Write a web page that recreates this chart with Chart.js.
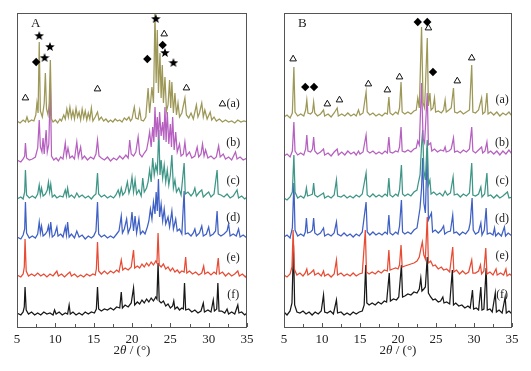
<!DOCTYPE html>
<html>
<head>
<meta charset="utf-8">
<script src="https://cdn.jsdelivr.net/npm/chart.js@4"></script>
<style>
    html, body { margin: 0; padding: 0; background: #fff; }
    #wrap { position: relative; width: 531px; height: 371px; }
    .box { position: absolute; top: 0; height: 371px; }
</style>
</head>
<body>
<div id="wrap">
    <div class="box" style="left:0;width:265px"><canvas id="chartA"></canvas></div>
    <div class="box" style="left:265px;width:266px"><canvas id="chartB"></canvas></div>
</div>
<script>
// --- DADOS ---
const xTickLabels = [5, 10, 15, 20, 25, 30, 35];
const seriesLabels = ['(a)', '(b)', '(c)', '(d)', '(e)', '(f)'];
const offsetsA = [204, 165, 127, 88, 50, 12];
const offsetsB = [209, 170, 127, 89, 50, 12];

// painel A: [2θ, intensidade acima da linha base]
const patA_a = [[5,2],[5.4,0],[5.8,3],[6.1,1],[6.3,6],[6.5,1],[6.9,3],[7.2,2],[7.45,8],[7.6,20],[7.75,10],[7.9,81],[8.05,12],[8.3,6],[8.55,20],[8.7,50],[8.85,14],[9.05,8],[9.2,20],[9.35,63],[9.5,4],[9.7,1],[10.0,3],[10.3,0],[10.6,4],[10.8,2],[11.1,8],[11.3,4],[11.5,14],[11.7,6],[11.9,16],[12.1,5],[12.3,12],[12.5,4],[12.7,15],[12.9,6],[13.1,11],[13.3,3],[13.5,14],[13.7,5],[13.9,12],[14.1,3],[14.3,10],[14.5,4],[14.7,15],[14.9,2],[15.2,6],[15.5,11],[15.7,3],[16.0,6],[16.3,2],[16.6,4],[16.9,1],[17.2,3],[17.5,1],[17.8,4],[18.1,2],[18.4,3],[18.7,1],[19.0,5],[19.3,3],[19.6,6],[19.8,2],[20.0,4],[20.3,16],[20.5,5],[20.8,4],[21.0,13],[21.2,3],[21.5,2],[21.8,6],[22.1,35],[22.3,10],[22.6,36],[22.8,20],[23.0,110],[23.15,40],[23.3,93],[23.45,30],[23.65,70],[23.8,25],[23.95,58],[24.1,20],[24.3,46],[24.5,12],[24.7,18],[24.9,43],[25.05,15],[25.2,41],[25.4,10],[25.6,30],[25.8,8],[26.0,20],[26.2,6],[26.5,10],[26.9,25],[27.1,8],[27.4,5],[27.7,10],[28.0,4],[28.4,18],[28.6,6],[28.8,10],[29.1,20],[29.3,6],[29.5,13],[29.8,4],[30.2,11],[30.4,3],[30.7,6],[31.0,2],[31.4,4],[31.8,1],[32.2,3],[32.6,1],[33.0,2],[33.4,0],[33.8,3],[34.2,1],[34.6,2],[35,1]];
const patA_b = [[5,2],[5.5,0],[5.8,3],[6.0,6],[6.1,19],[6.25,4],[6.6,2],[7.0,3],[7.4,5],[7.7,14],[7.9,42],[8.05,15],[8.25,10],[8.4,24],[8.55,8],[8.8,32],[8.95,10],[9.15,18],[9.35,78],[9.5,6],[9.8,2],[10.1,4],[10.4,1],[10.7,5],[11.0,3],[11.3,19],[11.45,6],[11.65,14],[11.9,4],[12.2,6],[12.5,3],[12.8,20],[13.0,5],[13.3,15],[13.5,3],[13.8,6],[14.2,2],[14.6,5],[15.0,3],[15.3,8],[15.5,22],[15.7,6],[16.0,4],[16.4,2],[16.8,5],[17.2,1],[17.6,4],[18.0,2],[18.4,6],[18.8,3],[19.2,7],[19.5,4],[19.7,22],[19.9,8],[20.2,6],[20.5,10],[20.8,25],[21.0,8],[21.3,5],[21.6,9],[21.9,12],[22.1,20],[22.3,30],[22.5,15],[22.7,35],[22.85,20],[23.0,55],[23.15,25],[23.3,45],[23.45,22],[23.6,50],[23.8,26],[24.0,40],[24.15,22],[24.3,55],[24.45,20],[24.6,50],[24.8,18],[25.0,38],[25.15,15],[25.3,45],[25.5,12],[25.7,30],[25.9,10],[26.2,18],[26.4,6],[26.7,8],[26.9,20],[27.1,6],[27.5,10],[27.8,4],[28.2,6],[28.5,15],[28.7,5],[29.0,8],[29.2,18],[29.4,6],[29.6,12],[29.9,4],[30.3,6],[30.7,3],[31.0,5],[31.3,16],[31.5,5],[31.9,8],[32.2,3],[32.6,5],[33.0,2],[33.5,10],[33.7,3],[34.1,5],[34.5,2],[35,4]];
const patA_c = [[5,1],[5.5,3],[5.8,1],[6.0,8],[6.1,30],[6.25,5],[6.6,2],[7.0,4],[7.4,2],[7.7,6],[7.9,15],[8.05,5],[8.2,12],[8.4,4],[8.7,6],[8.95,10],[9.1,18],[9.25,8],[9.4,16],[9.6,3],[9.9,5],[10.2,2],[10.6,4],[11.0,3],[11.3,10],[11.45,4],[11.6,12],[11.8,3],[12.1,5],[12.5,2],[12.8,7],[13.1,3],[13.5,5],[13.9,2],[14.3,4],[14.7,1],[15.0,4],[15.3,6],[15.5,27],[15.65,6],[16.0,3],[16.4,5],[16.8,2],[17.2,4],[17.6,2],[17.9,5],[18.2,10],[18.4,4],[18.6,12],[18.8,5],[19.1,8],[19.4,18],[19.6,7],[19.8,12],[20.0,23],[20.2,8],[20.4,20],[20.6,6],[20.9,10],[21.2,4],[21.4,22],[21.6,8],[21.9,12],[22.1,18],[22.3,30],[22.5,18],[22.7,42],[22.9,25],[23.1,35],[23.3,28],[23.5,70],[23.65,25],[23.8,40],[24.0,22],[24.2,35],[24.4,18],[24.6,30],[24.8,15],[25.0,25],[25.2,45],[25.4,12],[25.6,20],[25.8,8],[26.1,12],[26.4,5],[26.8,37],[26.95,6],[27.3,8],[27.7,4],[28.0,7],[28.2,12],[28.4,4],[28.8,8],[29.1,10],[29.3,3],[29.7,6],[30.0,8],[30.3,3],[30.7,6],[31.1,30],[31.25,6],[31.6,5],[32.0,3],[32.4,6],[32.8,2],[33.2,4],[33.7,10],[33.9,2],[34.3,4],[34.7,1],[35,3]];
const patA_d = [[5,2],[5.5,0],[5.8,4],[6.0,10],[6.1,37],[6.25,6],[6.6,1],[7.0,3],[7.4,1],[7.7,5],[7.9,17],[8.05,6],[8.2,13],[8.4,3],[8.7,5],[8.95,8],[9.1,13],[9.25,5],[9.4,17],[9.6,2],[9.9,4],[10.2,12],[10.35,3],[10.7,5],[11.0,2],[11.3,12],[11.45,4],[11.6,17],[11.8,2],[12.1,5],[12.5,1],[12.8,8],[13.1,2],[13.5,4],[13.9,0],[14.3,3],[14.7,1],[15.0,3],[15.3,8],[15.5,37],[15.65,5],[16.0,2],[16.4,4],[16.8,1],[17.2,3],[17.6,1],[18.0,5],[18.3,8],[18.6,23],[18.75,6],[19.0,10],[19.3,20],[19.5,6],[19.8,12],[20.0,27],[20.2,8],[20.4,23],[20.6,6],[20.9,20],[21.1,5],[21.4,8],[21.7,5],[22.0,12],[22.2,18],[22.4,30],[22.6,20],[22.8,37],[23.0,25],[23.15,47],[23.3,28],[23.45,60],[23.6,22],[23.8,35],[24.0,18],[24.2,30],[24.4,15],[24.7,22],[24.9,12],[25.2,28],[25.4,10],[25.7,20],[25.9,8],[26.2,10],[26.5,5],[26.8,48],[26.95,5],[27.3,6],[27.7,3],[28.0,6],[28.2,10],[28.4,3],[28.8,6],[29.1,13],[29.3,3],[29.7,5],[30.0,12],[30.2,3],[30.6,5],[30.9,8],[31.1,28],[31.25,5],[31.6,3],[32.0,5],[32.4,8],[32.6,15],[32.8,3],[33.2,5],[33.6,3],[33.9,10],[34.1,2],[34.5,4],[35,1]];
const patA_e = [[5,2],[5.5,0],[5.8,3],[5.95,10],[6.05,38],[6.2,6],[6.5,1],[6.9,3],[7.3,1],[7.7,4],[8.1,1],[8.5,3],[8.9,0],[9.3,3],[9.7,1],[10.0,4],[10.2,6],[10.4,1],[10.8,3],[11.2,0],[11.6,3],[11.9,5],[12.1,1],[12.5,3],[12.9,0],[13.3,2],[13.7,0],[14.1,3],[14.5,1],[14.9,3],[15.2,2],[15.35,8],[15.5,35],[15.65,6],[16.0,3],[16.4,6],[16.8,3],[17.2,6],[17.6,4],[18.0,7],[18.3,5],[18.6,17],[18.8,7],[19.1,9],[19.5,7],[19.9,10],[20.2,27],[20.35,9],[20.7,11],[21.0,9],[21.3,13],[21.6,10],[21.9,14],[22.2,11],[22.5,15],[22.8,12],[23.1,16],[23.25,14],[23.4,44],[23.55,12],[23.8,10],[24.1,13],[24.4,8],[24.7,10],[25.0,6],[25.3,9],[25.6,5],[25.9,7],[26.2,4],[26.5,6],[26.8,5],[27.0,20],[27.15,4],[27.5,6],[27.9,3],[28.3,5],[28.7,2],[29.1,4],[29.35,11],[29.5,3],[29.9,5],[30.3,2],[30.7,5],[31.0,3],[31.25,19],[31.4,3],[31.8,5],[32.2,1],[32.6,4],[33.0,1],[33.4,3],[33.8,6],[34.0,1],[34.4,3],[34.8,0],[35,2]];
const patA_f = [[5,2],[5.5,0],[5.8,3],[5.95,8],[6.05,28],[6.2,5],[6.5,1],[6.9,3],[7.3,0],[7.7,2],[8.1,0],[8.5,3],[8.9,1],[9.3,2],[9.7,0],[9.9,5],[10.1,1],[10.5,3],[10.9,0],[11.3,2],[11.6,1],[11.8,10],[11.95,1],[12.3,3],[12.7,0],[13.1,2],[13.5,0],[13.9,3],[14.3,1],[14.7,3],[15.1,2],[15.35,6],[15.5,28],[15.65,6],[16.0,4],[16.4,6],[16.8,5],[17.2,7],[17.6,5],[18.0,8],[18.4,7],[18.6,23],[18.75,7],[19.1,10],[19.5,8],[19.9,12],[20.2,27],[20.35,10],[20.7,13],[21.0,11],[21.3,15],[21.6,12],[21.9,16],[22.2,13],[22.5,17],[22.8,14],[23.1,18],[23.25,16],[23.4,52],[23.55,14],[23.8,12],[24.1,14],[24.4,9],[24.7,11],[25.0,7],[25.3,9],[25.45,14],[25.6,6],[25.9,8],[26.2,5],[26.5,7],[26.7,6],[26.85,32],[27.0,5],[27.4,6],[27.8,3],[28.2,5],[28.6,2],[29.0,4],[29.3,12],[29.45,3],[29.9,5],[30.3,3],[30.6,15],[30.75,4],[31.05,6],[31.2,32],[31.35,4],[31.7,4],[32.1,2],[32.4,6],[32.6,1],[33.0,3],[33.4,1],[33.8,10],[33.95,2],[34.3,3],[34.7,0],[35,2]];

// painel B
const patB_a = [[5,1],[5.4,3],[5.8,0],[6.1,5],[6.3,51],[6.45,6],[6.8,2],[7.2,4],[7.6,2],[7.85,8],[8.0,18],[8.15,5],[8.5,4],[8.75,6],[8.9,16],[9.05,5],[9.4,2],[9.8,4],[10.2,8],[10.35,2],[10.8,4],[11.2,1],[11.6,5],[12.0,10],[12.15,2],[12.6,4],[13.0,2],[13.4,5],[13.8,2],[14.2,4],[14.5,2],[14.8,8],[15.0,3],[15.4,5],[15.8,26],[15.95,6],[16.3,3],[16.7,5],[17.1,2],[17.5,4],[17.9,2],[18.3,5],[18.6,4],[18.8,21],[18.95,5],[19.3,3],[19.7,6],[20.0,4],[20.2,10],[20.4,36],[20.55,6],[20.9,4],[21.3,6],[21.7,4],[22.1,7],[22.4,8],[22.6,20],[22.8,10],[23.1,91],[23.3,15],[23.5,10],[23.85,80],[24.0,12],[24.2,25],[24.35,8],[24.6,10],[24.8,20],[24.95,6],[25.3,7],[25.7,5],[26.0,8],[26.2,18],[26.35,6],[26.7,8],[27.0,10],[27.3,30],[27.45,6],[27.8,5],[28.2,7],[28.6,4],[29.0,6],[29.4,8],[29.7,53],[29.85,6],[30.2,5],[30.6,8],[31.0,20],[31.15,4],[31.45,6],[31.7,25],[31.85,4],[32.2,6],[32.6,3],[33.0,6],[33.4,2],[33.8,5],[34.2,3],[34.6,6],[35,2]];
const patB_b = [[5,1],[5.4,3],[5.8,0],[6.1,6],[6.3,35],[6.45,6],[6.8,2],[7.2,4],[7.6,2],[7.85,8],[8.0,22],[8.15,6],[8.5,5],[8.75,8],[8.9,20],[9.05,6],[9.4,3],[9.8,5],[10.2,8],[10.35,2],[10.8,4],[11.2,1],[11.6,5],[12.0,8],[12.15,2],[12.6,5],[13.0,2],[13.4,6],[13.8,3],[14.2,5],[14.5,2],[14.8,6],[15.0,3],[15.4,5],[15.8,22],[15.95,6],[16.3,4],[16.7,6],[17.1,3],[17.5,5],[17.9,3],[18.3,6],[18.6,4],[18.8,20],[18.95,5],[19.3,4],[19.7,6],[20.0,5],[20.2,10],[20.4,30],[20.55,6],[20.9,5],[21.3,7],[21.7,5],[22.1,8],[22.4,9],[22.6,16],[22.8,12],[23.1,74],[23.3,18],[23.5,14],[23.85,64],[24.0,12],[24.3,14],[24.45,6],[24.8,8],[25.2,5],[25.6,7],[26.0,6],[26.2,10],[26.35,5],[26.7,6],[27.0,8],[27.3,19],[27.45,5],[27.8,6],[28.2,4],[28.6,7],[29.0,5],[29.4,8],[29.7,30],[29.85,6],[30.2,4],[30.6,7],[31.0,10],[31.15,4],[31.45,6],[31.7,15],[31.85,4],[32.2,6],[32.6,3],[33.0,6],[33.4,2],[33.8,6],[34.2,3],[34.6,7],[35,3]];
const patB_c = [[5,2],[5.4,0],[5.8,3],[6.1,8],[6.3,45],[6.45,8],[6.8,2],[7.2,4],[7.6,2],[7.8,5],[7.95,12],[8.1,4],[8.5,5],[8.75,6],[8.9,17],[9.05,5],[9.4,3],[9.8,5],[10.2,7],[10.35,2],[10.8,4],[11.2,2],[11.6,5],[11.9,20],[12.05,4],[12.5,3],[12.9,5],[13.3,2],[13.7,4],[14.1,2],[14.5,5],[14.9,3],[15.3,6],[15.8,27],[15.95,5],[16.3,3],[16.7,6],[17.1,3],[17.5,5],[17.9,3],[18.3,6],[18.6,4],[18.8,22],[18.95,5],[19.3,3],[19.7,6],[20.0,4],[20.2,10],[20.45,35],[20.6,6],[20.9,4],[21.3,6],[21.7,4],[22.1,8],[22.5,10],[22.7,18],[22.9,25],[23.1,55],[23.25,70],[23.4,30],[23.6,20],[23.85,60],[24.0,15],[24.2,20],[24.35,6],[24.7,8],[25.1,5],[25.5,7],[25.9,4],[26.2,9],[26.5,5],[26.9,7],[27.25,23],[27.4,5],[27.8,6],[28.2,3],[28.6,6],[29.0,4],[29.4,7],[29.7,37],[29.85,5],[30.2,4],[30.6,6],[30.9,13],[31.05,3],[31.4,6],[31.7,27],[31.85,4],[32.2,5],[32.6,2],[33.0,5],[33.4,2],[33.8,4],[34.4,8],[34.6,2],[35,3]];
const patB_d = [[5,1],[5.4,3],[5.8,0],[6.1,10],[6.3,55],[6.45,8],[6.8,2],[7.2,4],[7.6,2],[7.8,6],[7.95,20],[8.1,5],[8.5,6],[8.75,8],[8.9,20],[9.05,5],[9.4,3],[9.8,5],[10.2,10],[10.35,2],[10.8,4],[11.2,2],[11.6,5],[11.9,16],[12.05,4],[12.5,2],[12.9,5],[13.3,2],[13.7,4],[14.1,1],[14.5,4],[14.9,2],[15.3,6],[15.8,36],[15.95,6],[16.3,3],[16.7,6],[17.1,3],[17.5,5],[17.9,3],[18.3,6],[18.6,4],[18.8,23],[18.95,5],[19.3,3],[19.7,6],[20.0,4],[20.2,12],[20.45,38],[20.6,6],[20.9,4],[21.3,6],[21.7,4],[22.1,8],[22.5,10],[22.7,20],[22.9,30],[23.1,50],[23.25,80],[23.4,35],[23.6,25],[23.85,90],[24.0,18],[24.4,25],[24.55,6],[24.9,8],[25.3,5],[25.7,8],[26.0,12],[26.15,4],[26.5,6],[26.9,7],[27.2,23],[27.35,5],[27.7,6],[28.1,3],[28.5,6],[28.9,4],[29.3,8],[29.5,15],[29.75,40],[29.9,8],[30.2,4],[30.6,6],[30.9,15],[31.05,3],[31.35,8],[31.6,30],[31.75,4],[32.1,5],[32.5,3],[32.7,10],[32.85,2],[33.2,5],[33.6,2],[34.0,11],[34.15,2],[34.5,5],[35,2]];
const patB_e = [[5,2],[5.4,0],[5.8,3],[6.05,10],[6.2,47],[6.35,8],[6.7,2],[7.1,4],[7.5,1],[7.8,4],[8.0,8],[8.15,2],[8.5,4],[8.9,7],[9.05,2],[9.5,4],[9.9,1],[10.2,6],[10.35,1],[10.8,3],[11.2,0],[11.6,3],[11.9,17],[12.05,2],[12.5,4],[12.9,1],[13.3,3],[13.7,1],[14.1,4],[14.5,1],[14.9,3],[15.3,4],[15.7,47],[15.85,5],[16.2,3],[16.6,5],[17.0,3],[17.4,6],[17.8,4],[18.2,7],[18.6,6],[18.8,27],[18.95,7],[19.3,8],[19.7,9],[20.0,8],[20.2,12],[20.4,32],[20.55,10],[20.9,11],[21.3,12],[21.7,13],[22.1,14],[22.5,16],[22.8,20],[23.0,28],[23.2,35],[23.4,22],[23.6,18],[23.85,60],[24.0,14],[24.3,16],[24.6,11],[24.9,12],[25.3,8],[25.7,10],[26.0,7],[26.4,8],[26.8,5],[27.2,30],[27.35,5],[27.7,7],[28.1,3],[28.5,6],[28.9,3],[29.3,5],[29.7,17],[29.85,4],[30.2,4],[30.6,6],[30.85,12],[31.0,3],[31.3,6],[31.55,29],[31.7,3],[32.1,5],[32.5,2],[32.9,8],[33.05,2],[33.5,4],[33.9,2],[34.2,8],[34.35,1],[34.7,3],[35,1]];
const patB_f = [[5,3],[5.4,0],[5.8,4],[6.05,12],[6.25,70],[6.4,10],[6.7,3],[7.1,2],[7.5,4],[7.9,1],[8.3,3],[8.7,0],[9.1,3],[9.5,1],[9.9,4],[10.2,20],[10.35,3],[10.7,2],[11.1,4],[11.5,1],[11.9,15],[12.05,2],[12.5,3],[12.9,0],[13.3,2],[13.7,0],[14.1,3],[14.5,1],[14.9,3],[15.3,4],[15.55,10],[15.75,50],[15.9,12],[16.2,10],[16.6,12],[17.0,10],[17.4,13],[17.8,11],[18.2,14],[18.5,13],[18.85,42],[19.0,14],[19.4,16],[19.8,15],[20.1,18],[20.45,50],[20.6,18],[20.9,19],[21.3,21],[21.7,20],[22.1,23],[22.5,22],[22.8,26],[23.0,37],[23.15,24],[23.4,26],[23.6,28],[23.85,58],[24.0,22],[24.3,18],[24.6,15],[24.9,16],[25.3,13],[25.6,14],[25.9,18],[26.05,12],[26.4,13],[26.8,11],[27.15,45],[27.3,10],[27.6,12],[28.0,9],[28.4,10],[28.8,7],[29.2,9],[29.5,7],[29.8,25],[29.95,6],[30.3,7],[30.6,5],[30.9,28],[31.05,5],[31.3,6],[31.6,47],[31.75,5],[32.1,6],[32.4,3],[32.8,22],[32.95,3],[33.3,5],[33.7,2],[34.1,18],[34.25,2],[34.6,4],[35,1]];

// marcadores de fase: [2θ, altura]
const starsA = [[7.9, 291], [9.3, 280], [8.6, 269], [23.1, 308], [24.3, 274], [25.4, 264]];
const diamondsA = [[7.5, 265], [22.0, 268], [24.0, 282]];
const trianglesA = [[6.1, 229], [15.5, 238], [24.2, 293], [27.1, 239], [31.8, 223]];
const starsB = [];
const diamondsB = [[7.8, 240], [8.95, 240], [22.6, 305], [23.85, 305], [24.6, 255]];
const trianglesB = [[6.2, 268], [10.7, 223], [12.3, 227], [16.1, 243], [18.6, 237], [20.2, 250], [24.0, 299], [27.8, 246], [29.7, 269]];

// --- ESTILO ---
const traceColors = ['#9d9857', '#b660c0', '#3f9687', '#3f60c4', '#e84b34', '#181818'];
const serif = '"Liberation Serif", "DejaVu Serif", serif';

function starImage(size) {
    const c = document.createElement('canvas');
    c.width = c.height = size;
    const g = c.getContext('2d');
    const r = size / 2, ri = r * 0.42;
    g.beginPath();
    for (let i = 0; i < 10; i++) {
        const ang = -Math.PI / 2 + i * Math.PI / 5;
        const rr = i % 2 ? ri : r;
        g.lineTo(r + rr * Math.cos(ang), r + rr * Math.sin(ang));
    }
    g.closePath();
    g.fillStyle = '#000';
    g.fill();
    return c;
}
const starImg = starImage(10);

const decorPlugin = {
    id: 'decor',
    afterDraw(chart, args, opts) {
        const { ctx, chartArea: a, scales: { x, y } } = chart;
        ctx.save();
        ctx.strokeStyle = '#555';
        ctx.lineWidth = 1;
        ctx.strokeRect(a.left + 0.5, a.top + 0.5, a.right - a.left - 1, a.bottom - a.top);
        // ticks para dentro
        x.ticks.forEach(t => {
            const px = Math.round(x.getPixelForValue(t.value)) + 0.5;
            const len = t.value % 5 === 0 ? 4 : 3;
            ctx.beginPath();
            ctx.moveTo(px, a.bottom);
            ctx.lineTo(px, a.bottom - len);
            ctx.stroke();
        });
        ctx.fillStyle = '#222';
        ctx.textBaseline = 'middle';
        // rótulos das séries
        ctx.font = '12px ' + serif;
        ctx.textAlign = 'center';
        opts.labelY.forEach((ly, i) => {
            ctx.fillText(seriesLabels[i], x.getPixelForValue(opts.labelX), y.getPixelForValue(ly));
        });
        // letra do painel
        ctx.font = '13px ' + serif;
        ctx.textAlign = 'left';
        ctx.fillText(opts.panel, a.left + 14, a.top + 11);
        // título do eixo x: 2θ / (°)
        const parts = [['2', 'normal'], ['θ', 'italic'], [' / (°)', 'normal']];
        let w = 0;
        parts.forEach(p => { ctx.font = p[1] + ' 13px ' + serif; w += ctx.measureText(p[0]).width; });
        let cx = (a.left + a.right) / 2 - w / 2;
        parts.forEach(p => {
            ctx.font = p[1] + ' 13px ' + serif;
            ctx.fillText(p[0], cx, 351);
            cx += ctx.measureText(p[0]).width;
        });
        ctx.restore();
    }
};

function makeChart(id, panel, patterns, offsets, stars, diamonds, triangles, labelX, labelY, padL, padR) {
    const markerSets = [];
    if (stars.length) {
        markerSets.push({
            data: stars.map(p => ({ x: p[0], y: p[1] })),
            pointStyle: starImg, pointRadius: 5, showLine: false
        });
    }
    markerSets.push({
        data: diamonds.map(p => ({ x: p[0], y: p[1] })),
        pointStyle: 'rectRot', pointRadius: 4.2, backgroundColor: '#000', borderColor: '#000', borderWidth: 0, showLine: false
    });
    markerSets.push({
        data: triangles.map(p => ({ x: p[0], y: p[1] })),
        pointStyle: 'triangle', pointRadius: 3.8, backgroundColor: '#fff', borderColor: '#111', borderWidth: 1, showLine: false
    });

    const traceSets = patterns.map((pat, i) => ({
        label: seriesLabels[i],
        data: pat.map(p => ({ x: p[0], y: p[1] + offsets[i] })),
        showLine: true,
        borderColor: traceColors[i],
        borderWidth: 1.25,
        pointRadius: 0,
        tension: 0
    }));

    return new Chart(document.getElementById(id), {
        type: 'scatter',
        data: { datasets: markerSets.concat(traceSets) },
        options: {
            responsive: true,
            maintainAspectRatio: false,
            animation: false,
            events: [],
            layout: { padding: { left: padL, right: padR, top: 13, bottom: 0 } },
            plugins: {
                legend: { display: false },
                tooltip: { enabled: false },
                decor: { panel: panel, labelX: labelX, labelY: labelY }
            },
            scales: {
                x: {
                    type: 'linear', min: 5, max: 35,
                    grid: { display: false, drawTicks: false },
                    border: { display: false },
                    afterFit: s => { s.height = 44; },
                    ticks: {
                        stepSize: 2.5, autoSkip: false, maxRotation: 0, padding: 5,
                        color: '#222', font: { family: serif, size: 13 },
                        callback: v => xTickLabels.includes(v) ? v : ''
                    }
                },
                y: { display: false, min: 0, max: 314 }
            }
        },
        plugins: [decorPlugin]
    });
}

document.addEventListener('DOMContentLoaded', () => {
    makeChart('chartA', 'A', [patA_a, patA_b, patA_c, patA_d, patA_e, patA_f], offsetsA,
        starsA, diamondsA, trianglesA, 33.2, [223, 184, 146, 109, 69, 32], 17, 18);
    makeChart('chartB', 'B', [patB_a, patB_b, patB_c, patB_d, patB_e, patB_f], offsetsB,
        starsB, diamondsB, trianglesB, 33.7, [227, 184, 146, 108, 71, 32], 19, 19);
});
</script>
</body>
</html>
